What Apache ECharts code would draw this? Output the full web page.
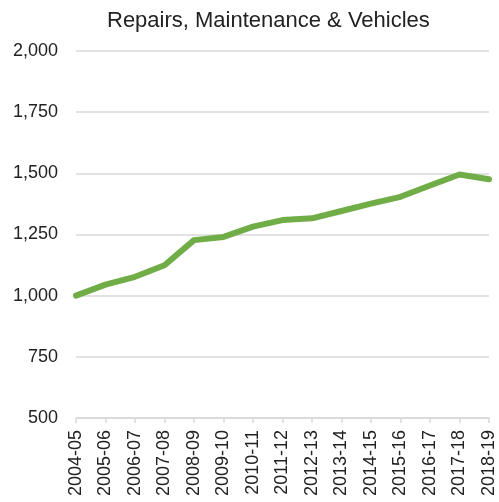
<!DOCTYPE html>
<html>
<head>
<meta charset="utf-8">
<script src="https://cdn.jsdelivr.net/npm/echarts@6/dist/echarts.min.js"></script>
<style>
  html, body { margin: 0; padding: 0; background: #fff; }
  #chart { width: 499px; height: 502px; }
</style>
</head>
<body>
<div id="chart"></div>
<script>
var years = ['2004-05', '2005-06', '2006-07', '2007-08', '2008-09', '2009-10', '2010-11',
             '2011-12', '2012-13', '2013-14', '2014-15', '2015-16', '2016-17', '2017-18', '2018-19'];
var values = [1000, 1045, 1077, 1124, 1227, 1240, 1282, 1309, 1316, 1346, 1376, 1404, 1450, 1495, 1476];
var yTicks = { min: 500, max: 2000, step: 250 };

var chart = echarts.init(document.getElementById('chart'));
chart.setOption({
    animation: false,
    title: {
        text: 'Repairs, Maintenance & Vehicles',
        left: 102,
        top: 5,
        textStyle: { fontFamily: 'Liberation Sans', fontSize: 22, fontWeight: 'normal', color: '#222' }
    },
    grid: { left: 76, right: 10, top: 51, bottom: 84 },
    xAxis: {
        type: 'category',
        data: years,
        boundaryGap: false,
        axisLine: { lineStyle: { color: '#d9d9d9', width: 1.5 } },
        axisTick: { show: true, length: 5, lineStyle: { color: '#d9d9d9', width: 1.5 } },
        axisLabel: {
            rotate: 90, interval: 0, margin: 12,
            fontFamily: 'Liberation Sans', fontSize: 18, color: '#222'
        }
    },
    yAxis: {
        type: 'value',
        min: yTicks.min,
        max: yTicks.max,
        interval: yTicks.step,
        axisLine: { show: false },
        axisTick: { show: false },
        splitLine: { lineStyle: { color: '#d9d9d9', width: 1.5 } },
        axisLabel: {
            margin: 18,
            fontFamily: 'Liberation Sans', fontSize: 18, color: '#222',
            formatter: function (v) { return v.toLocaleString('en-US'); }
        }
    },
    series: [{
        type: 'line',
        data: values,
        showSymbol: false,
        lineStyle: { color: '#70ad47', width: 6, cap: 'round', join: 'round' }
    }]
});
</script>
</body>
</html>
